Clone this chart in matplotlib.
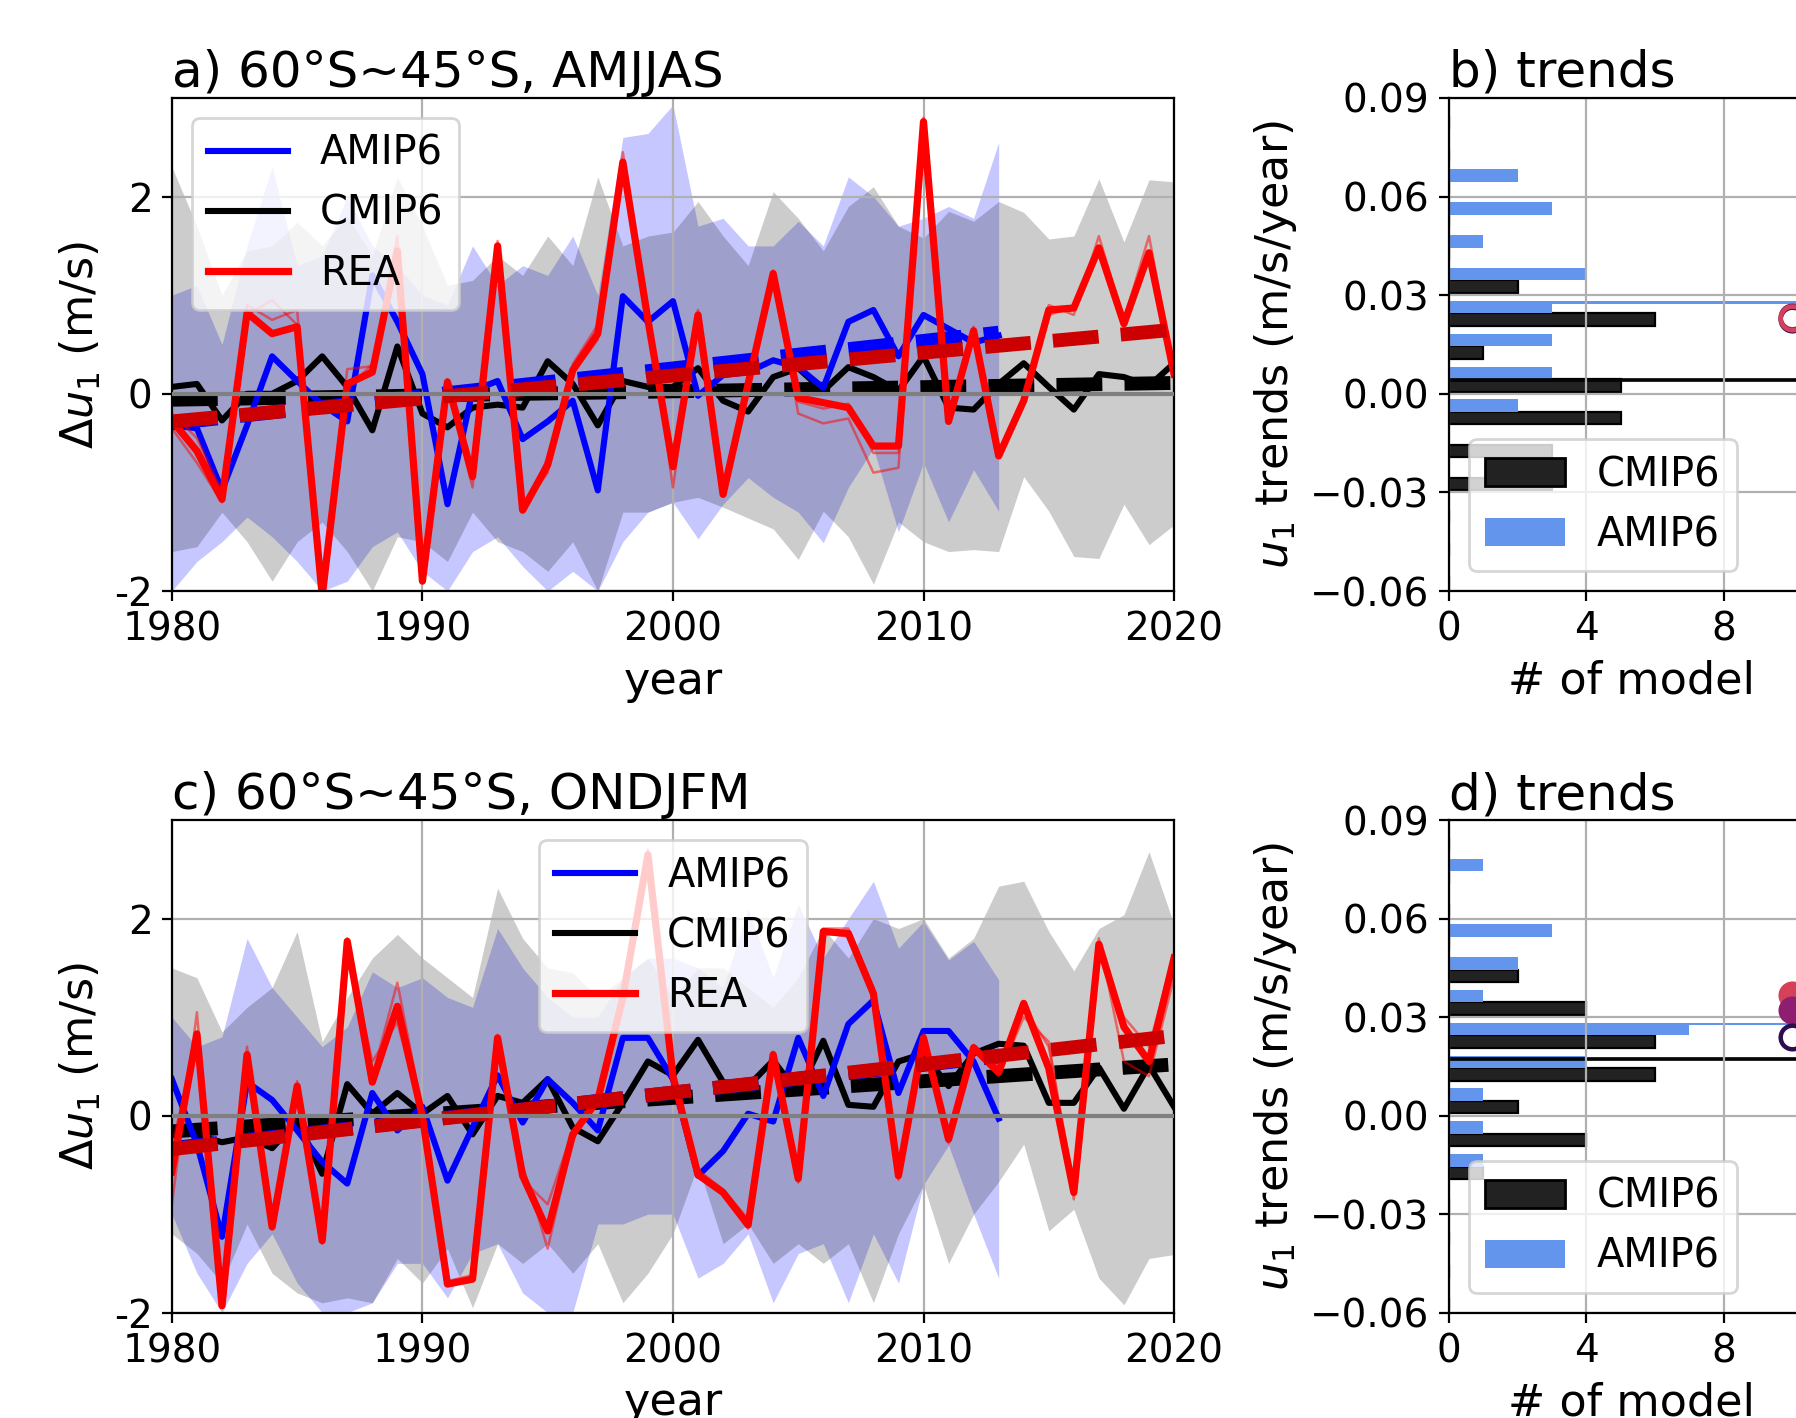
import numpy as np
import matplotlib
matplotlib.use('Agg')
from matplotlib import pyplot as plt
from matplotlib.patches import Patch

years = np.arange(1980, 2021)
years_amip = np.arange(1980, 2014)

# ---- panel a: AMJJAS ----
amip_a = [-0.32, -0.35, -0.98, -0.32, 0.38, 0.13, -0.11, -0.28, 1.2, 0.73,
          0.20, -1.12, 0.03, 0.13, -0.46, -0.28, -0.07, -0.98, 0.99, 0.73,
          0.94, -0.02, 0.19, 0.22, 0.34, 0.27, 0.06, 0.73, 0.85, 0.38,
          0.80, 0.66, 0.52, 0.59]
cmip_a = [0.07, 0.10, -0.27, 0.0, 0.0, 0.13, 0.38, 0.07, -0.37, 0.48,
          -0.2, -0.34, -0.14, -0.11, -0.14, 0.33, 0.10, -0.32, 0.13, 0.07,
          0.07, 0.26, -0.07, -0.18, 0.17, 0.26, 0.03, 0.27, 0.17, 0.03,
          0.38, -0.14, -0.16, 0.10, 0.31, 0.07, -0.16, 0.20, 0.17, 0.08, 0.31]
rea_a = [-0.27, -0.58, -1.07, 0.82, 0.61, 0.68, -2.05, 0.10, 0.22, 1.45,
         -1.9, 0.12, -0.84, 1.50, -1.18, -0.72, 0.24, 0.61, 2.35, 0.75,
         -0.74, 0.80, -1.02, 0.10, 1.22, -0.04, -0.09, -0.14, -0.53, -0.53,
         2.76, -0.28, 0.64, -0.63, -0.07, 0.85, 0.87, 1.48, 0.71, 1.43, 0.20]
rea_a_1 = [-0.35, -0.70, -1.10, 0.90, 0.75, 0.85, -2.05, 0.25, 0.28, 1.60,
           -1.9, 0.15, -0.95, 1.55, -1.15, -0.80, 0.30, 0.70, 2.45, 0.85,
           -0.95, 0.85, -1.02, 0.05, 1.25, -0.20, -0.30, -0.25, -0.80, -0.75,
           2.80, -0.25, 0.60, -0.60, -0.05, 0.90, 0.80, 1.60, 0.75, 1.60, 0.25]
rea_a_2 = [-0.20, -0.45, -1.00, 0.80, 0.95, 0.70, -1.95, 0.05, 0.30, 1.40,
           -1.85, 0.08, -0.75, 1.45, -1.20, -0.65, 0.20, 0.55, 2.30, 0.70,
           -0.60, 0.75, -1.00, 0.15, 1.18, -0.08, -0.15, -0.10, -0.60, -0.60,
           2.70, -0.30, 0.68, -0.65, -0.10, 0.80, 0.88, 1.45, 0.68, 1.40, 0.15]
cmip_a_hi = [2.30, 1.7, 1.0, 1.45, 1.5, 1.74, 1.5, 1.8, 1.4, 2.2,
             1.7, 1.1, 1.15, 1.4, 1.2, 1.6, 1.3, 2.2, 1.5, 1.6,
             1.64, 1.95, 1.6, 1.3, 2.05, 1.78, 1.45, 1.9, 2.1, 1.7,
             1.58, 1.85, 1.75, 1.95, 1.84, 1.57, 1.6, 2.18, 1.54, 2.17, 2.15]
cmip_a_lo = [-1.6, -1.55, -1.2, -1.5, -1.9, -1.5, -1.3, -1.6, -2.0, -1.45,
             -1.5, -1.7, -1.2, -1.5, -1.6, -1.8, -1.5, -2.0, -1.2, -1.2,
             -1.1, -1.05, -1.15, -1.26, -1.37, -1.68, -1.19, -1.45, -1.93, -1.3,
             -1.5, -1.6, -1.58, -1.6, -0.84, -1.19, -1.65, -1.67, -1.12, -1.53, -1.33]
amip_a_hi = [1.0, 1.1, 0.5, 1.5, 2.3, 1.3, 1.4, 2.0, 1.5, 1.3,
             1.0, 0.9, 1.5, 1.1, 1.3, 1.2, 1.6, 1.0, 2.6, 2.64,
             2.93, 1.7, 1.78, 1.5, 1.5, 1.75, 1.5, 2.2, 2.0, 1.7,
             1.78, 1.9, 1.78, 2.55]
amip_a_lo = [-2.0, -1.7, -1.5, -1.25, -1.45, -1.7, -2.0, -1.9, -1.55, -1.4,
             -1.8, -2.0, -1.6, -1.45, -1.75, -2.0, -1.8, -2.0, -1.5, -1.2,
             -1.1, -1.47, -1.12, -0.85, -1.05, -1.2, -1.51, -0.95, -0.55, -1.4,
             -0.7, -1.3, -0.77, -1.19]
trend_a_rea = [-0.28, 0.65]
trend_a_amip = [-0.30, 0.62]
trend_a_cmip = [-0.06, 0.11]

# ---- panel c: ONDJFM ----
amip_c = [0.37, -0.29, -1.23, 0.34, 0.16, -0.15, -0.47, -0.69, 0.23, -0.15,
          0.09, -0.66, -0.12, 0.41, -0.07, 0.37, 0.13, -0.15, 0.79, 0.79,
          0.37, -0.61, -0.36, 0.02, -0.06, 0.79, 0.2, 0.93, 1.17, 0.23,
          0.86, 0.86, 0.55, -0.03]
cmip_c = [-0.12, -0.2, -0.27, -0.22, -0.33, -0.05, -0.59, 0.32, 0.02, 0.23,
          0.02, 0.2, -0.19, 0.2, 0.13, 0.37, -0.12, -0.26, 0.13, 0.55,
          0.41, 0.77, 0.34, 0.30, 0.56, 0.23, 0.76, 0.11, 0.09, 0.55,
          0.63, 0.3, 0.63, 0.73, 0.71, 0.13, 0.13, 0.49, 0.07, 0.51, 0.09]
rea_c = [-0.57, 0.83, -1.93, 0.62, -1.13, 0.30, -1.27, 1.77, 0.34, 1.11,
         -0.01, -1.71, -1.66, 0.79, -0.61, -1.17, -0.19, 0.16, 1.2, 2.65,
         0.4, -0.6, -0.78, -1.11, 0.62, -0.64, 1.87, 1.85, 1.24, -0.61,
         0.79, -0.24, 0.69, 0.44, 1.14, 0.48, -0.78, 1.74, 0.90, 0.55, 1.6]
rea_c_1 = [-0.90, 1.05, -1.93, 0.70, -1.10, 0.35, -1.20, 1.80, 0.40, 1.35,
           0.05, -1.68, -1.62, 0.75, -0.50, -1.35, -0.25, 0.20, 1.25, 2.70,
           0.45, -0.55, -0.75, -1.05, 0.60, -0.60, 1.90, 1.90, 1.30, -0.55,
           0.75, -0.20, 0.72, 0.50, 1.10, 0.70, -0.70, 1.80, 0.55, 0.40, 1.40]
rea_c_2 = [-0.30, 0.75, -1.90, 0.55, -1.15, 0.25, -1.30, 1.72, 0.55, 0.95,
           -0.05, -1.72, -1.68, 0.82, -0.65, -0.90, -0.15, 0.12, 1.15, 2.60,
           0.35, -0.62, -0.80, -1.15, 0.65, -0.68, 1.85, 1.82, 1.20, -0.65,
           0.82, -0.28, 0.66, 0.40, 1.00, 0.75, -0.85, 1.70, 1.00, 0.70, 1.65]
cmip_c_hi = [1.5, 1.4, 0.85, 1.1, 1.3, 1.87, 0.75, 1.2, 1.6, 1.84,
             1.6, 1.4, 1.2, 2.31, 1.8, 1.5, 1.45, 1.2, 1.4, 1.6,
             1.2, 1.5, 1.5, 1.3, 1.1, 1.4, 1.9, 1.6, 2.0, 1.9,
             2.0, 1.6, 1.8, 2.33, 2.38, 1.87, 1.47, 1.9, 2.04, 2.68, 1.94]
cmip_c_lo = [-1.2, -1.4, -1.7, -1.1, -1.6, -1.8, -1.9, -1.85, -1.9, -1.45,
             -1.7, -1.35, -1.95, -1.3, -1.5, -1.3, -1.6, -1.3, -1.9, -1.6,
             -1.2, -0.5, -1.3, -1.1, -1.5, -1.3, -1.5, -1.3, -1.9, -1.2,
             -0.7, -1.5, -1.0, -0.67, -0.29, -1.17, -0.95, -1.65, -1.92, -1.45, -1.41]
amip_c_hi = [1.0, 0.7, 0.8, 1.8, 1.3, 1.0, 0.7, 0.9, 1.46, 1.3,
             1.4, 1.2, 1.1, 1.9, 1.5, 1.2, 1.0, 1.0, 1.4, 1.6,
             1.6, 1.5, 1.3, 2.1, 1.4, 2.15, 1.6, 2.0, 2.38, 1.7,
             1.97, 1.58, 1.77, 1.38]
amip_c_lo = [-1.0, -1.6, -2.0, -1.5, -1.2, -1.7, -2.0, -2.0, -1.9, -1.5,
             -1.5, -1.85, -1.4, -1.3, -1.8, -2.0, -2.0, -1.1, -1.1, -1.0,
             -1.0, -1.65, -1.5, -1.2, -1.9, -1.4, -1.3, -1.9, -1.2, -1.7,
             -0.7, -0.3, -1.0, -1.65]
trend_c_rea = [-0.34, 0.81]
trend_c_amip = [-0.33, 0.60]
trend_c_cmip = [-0.16, 0.52]

# ---- trend histograms (b, d) ----
bins = [-0.0555, -0.0455, -0.0355, -0.0255, -0.0155, -0.0055, 0.0045,
        0.0145, 0.0245, 0.0345, 0.0445, 0.0545, 0.0645, 0.0745, 0.0845]
hist_b_cmip = [0, 0, 0, 3, 3, 5, 5, 1, 6, 2, 0, 0, 0, 0, 0]
hist_b_amip = [0, 0, 0, 0, 0, 2, 3, 3, 3, 4, 1, 3, 2, 0, 0]
hist_d_cmip = [0, 0, 0, 0, 1, 4, 2, 6, 6, 4, 2, 0, 0, 0, 0]
hist_d_amip = [0, 0, 0, 0, 1, 1, 1, 4, 7, 1, 2, 3, 0, 1, 0]
mean_b = {'CMIP6': 0.0042, 'AMIP6': 0.0278}
mean_d = {'CMIP6': 0.0173, 'AMIP6': 0.0280}
rea_trend_b = [0.0229, 0.0233, 0.0231]
rea_trend_d = [0.0367, 0.0322, 0.0241]

plt.rcParams['font.size'] = 14
plt.rcParams['axes.labelsize'] = 16
plt.rcParams['axes.titlesize'] = 18
plt.rcParams['legend.fontsize'] = 14.4

DASH = (0, (3.3, 1.6))


def series_panel(ax, amip, cmip, rea, rea_thin, amip_band, cmip_band,
                 trends, title, loc):
    ax.fill_between(years_amip, amip_band[1], amip_band[0], color='blue',
                    alpha=0.22, lw=0)
    ax.fill_between(years, cmip_band[1], cmip_band[0], color='k',
                    alpha=0.2, lw=0)
    ax.plot(years, cmip, color='k', lw=2.2, label='CMIP6')
    ax.plot([1980, 2020], trends[2], color='k', lw=5, ls=DASH)
    ax.plot(years_amip, amip, color='blue', lw=2.2, label='AMIP6')
    ax.plot([1980, 2013], trends[1], color='blue', lw=5, ls=DASH)
    for r in rea_thin:
        ax.plot(years, r, color='red', lw=0.9, alpha=0.5)
    ax.plot(years, rea, color='red', lw=2.6, label='REA')
    ax.plot([1980, 2020], trends[0], color='#cc0000', lw=5, ls=DASH)
    ax.axhline(0, color='gray', lw=1.5, zorder=6)
    ax.set_xlim(1980, 2020)
    ax.set_ylim(-2, 3)
    ax.set_xticks([1980, 1990, 2000, 2010, 2020])
    ax.set_yticks([-2, 0, 2])
    ax.set_yticklabels(['-2', '0', '2'])
    ax.grid(True)
    ax.set_xlabel('year')
    ax.set_ylabel(r'$\Delta u_1$ (m/s)')
    ax.set_title(title, loc='left', pad=4)
    h, l = ax.get_legend_handles_labels()
    order = [l.index('AMIP6'), l.index('CMIP6'), l.index('REA')]
    ax.legend([h[i] for i in order], [l[i] for i in order], loc=loc)


def hist_panel(ax, cmip_counts, amip_counts, means, rea_trends, filled,
               title):
    b = np.array(bins)
    ax.barh(b - 0.0019, cmip_counts, height=0.0038, color='#222222',
            edgecolor='k', lw=0.8)
    ax.barh(b + 0.0019, amip_counts, height=0.0038, color='cornflowerblue')
    ax.barh(means['AMIP6'], 20, height=0.0007, color='cornflowerblue')
    ax.barh(means['CMIP6'], 20, height=0.0007, color='#222222',
            edgecolor='k', lw=0.6)
    cols = ['#d6415a', '#8e1f70', '#2c0d4e']
    if not filled:
        cols = ['#2c0d4e', '#8e1f70', '#d6415a']
    for i, (v, c) in enumerate(zip(rea_trends, cols)):
        face = c if (filled and i < 2) else 'none'
        ax.plot(10, v, 'o', ms=8.5, mec=c, mfc=face, mew=1.6)
    ax.set_xlim(0, 10.6)
    ax.set_ylim(-0.06, 0.09)
    ax.set_xticks([0, 4, 8])
    ax.set_yticks([-0.06, -0.03, 0.0, 0.03, 0.06, 0.09])
    ax.grid(True)
    ax.set_xlabel('# of model')
    ax.set_ylabel('$u_1$ trends (m/s/year)')
    ax.set_title(title, loc='left', pad=4)
    ax.legend([Patch(facecolor='#222222', edgecolor='k'),
               Patch(facecolor='cornflowerblue')], ['CMIP6', 'AMIP6'],
              loc='lower left')


fig = plt.figure(figsize=(8.98, 7.09), dpi=200)
ax_a = fig.add_axes([0.0957, 0.5832, 0.558, 0.3477])
ax_b = fig.add_axes([0.8068, 0.5832, 0.2027, 0.3477])
ax_c = fig.add_axes([0.0957, 0.0743, 0.558, 0.3473])
ax_d = fig.add_axes([0.8068, 0.0743, 0.2027, 0.3473])

series_panel(ax_a, amip_a, cmip_a, rea_a, [rea_a_1, rea_a_2],
             [amip_a_hi, amip_a_lo], [cmip_a_hi, cmip_a_lo],
             [trend_a_rea, trend_a_amip, trend_a_cmip],
             'a) 60°S~45°S, AMJJAS', 'upper left')
series_panel(ax_c, amip_c, cmip_c, rea_c, [rea_c_1, rea_c_2],
             [amip_c_hi, amip_c_lo], [cmip_c_hi, cmip_c_lo],
             [trend_c_rea, trend_c_amip, trend_c_cmip],
             'c) 60°S~45°S, ONDJFM', 'upper center')
hist_panel(ax_b, hist_b_cmip, hist_b_amip, mean_b, rea_trend_b, False,
           'b) trends')
hist_panel(ax_d, hist_d_cmip, hist_d_amip, mean_d, rea_trend_d, True,
           'd) trends')

fig.savefig('out.png', dpi=200)
